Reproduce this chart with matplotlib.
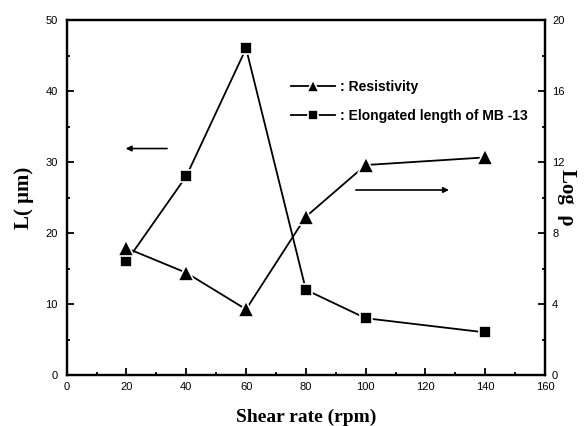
import matplotlib
matplotlib.use("Agg")
import matplotlib.pyplot as plt
from matplotlib.ticker import MultipleLocator

shear_rate = [20, 40, 60, 80, 100, 140]
length_um = [16, 28, 46, 12, 8, 6]
log_rho = [7.15, 5.76, 3.7, 8.92, 11.83, 12.26]

fig = plt.figure(figsize=(5.88, 4.26), dpi=100)
ax = fig.add_axes([0.1134, 0.1197, 0.8136, 0.8333])
ax2 = ax.twinx()

sans = ["Liberation Sans", "DejaVu Sans"]
serif = ["Liberation Serif", "DejaVu Serif"]

l1, = ax2.plot(shear_rate, log_rho, color="black", lw=1.3, marker="^", ms=11,
               mfc="black", mec="white", mew=1.2)
l2, = ax.plot(shear_rate, length_um, color="black", lw=1.3, marker="s", ms=9,
              mfc="black", mec="white", mew=1.2)

ax.set_xlim(0, 160)
ax.set_ylim(0, 50)
ax2.set_ylim(0, 20)
ax.xaxis.set_major_locator(MultipleLocator(20))
ax.xaxis.set_minor_locator(MultipleLocator(10))
ax.yaxis.set_major_locator(MultipleLocator(10))
ax.yaxis.set_minor_locator(MultipleLocator(5))
ax2.yaxis.set_major_locator(MultipleLocator(4))
ax2.yaxis.set_minor_locator(MultipleLocator(2))

for a in (ax, ax2):
    for s in a.spines.values():
        s.set_linewidth(1.6)
    a.tick_params(which="major", direction="in", length=5, width=1.3, pad=5,
                  labelsize=8)
    a.tick_params(which="minor", direction="in", length=2, width=1.3)
    for lab in a.get_xticklabels() + a.get_yticklabels():
        lab.set_family(sans)
ax.tick_params(axis="both", which="both", top=False, right=False)
ax.tick_params(axis="y", pad=6.5)

ax.set_xlabel("Shear rate (rpm)", fontsize=14, fontweight="bold", family=serif, labelpad=12)
ax.set_ylabel("L( μm)", fontsize=15, fontweight="bold", family=serif, labelpad=8)
ax2.set_ylabel("Log  ρ", fontsize=15, fontweight="bold", family=serif, rotation=270,
               labelpad=9)

leg = ax2.legend([l1, l2], [": Resistivity", ": Elongated length of MB -13"],
                 loc="upper left", bbox_to_anchor=(291 / 588, 1 - 80 / 426),
                 bbox_transform=fig.transFigure, frameon=False,
                 handlelength=3.2, handletextpad=0.3, labelspacing=1.05,
                 prop={"family": sans, "weight": "bold", "size": 10},
                 markerscale=0.85, borderpad=0, borderaxespad=0)

arrow = dict(arrowstyle="-|>", lw=1.2, color="black", mutation_scale=8)
ax.annotate("", xy=(18.8, 31.9), xytext=(34.5, 31.9), arrowprops=arrow)
ax.annotate("", xy=(128.8, 26.06), xytext=(95.8, 26.06), arrowprops=arrow)

fig.savefig("out.png", dpi=100)
